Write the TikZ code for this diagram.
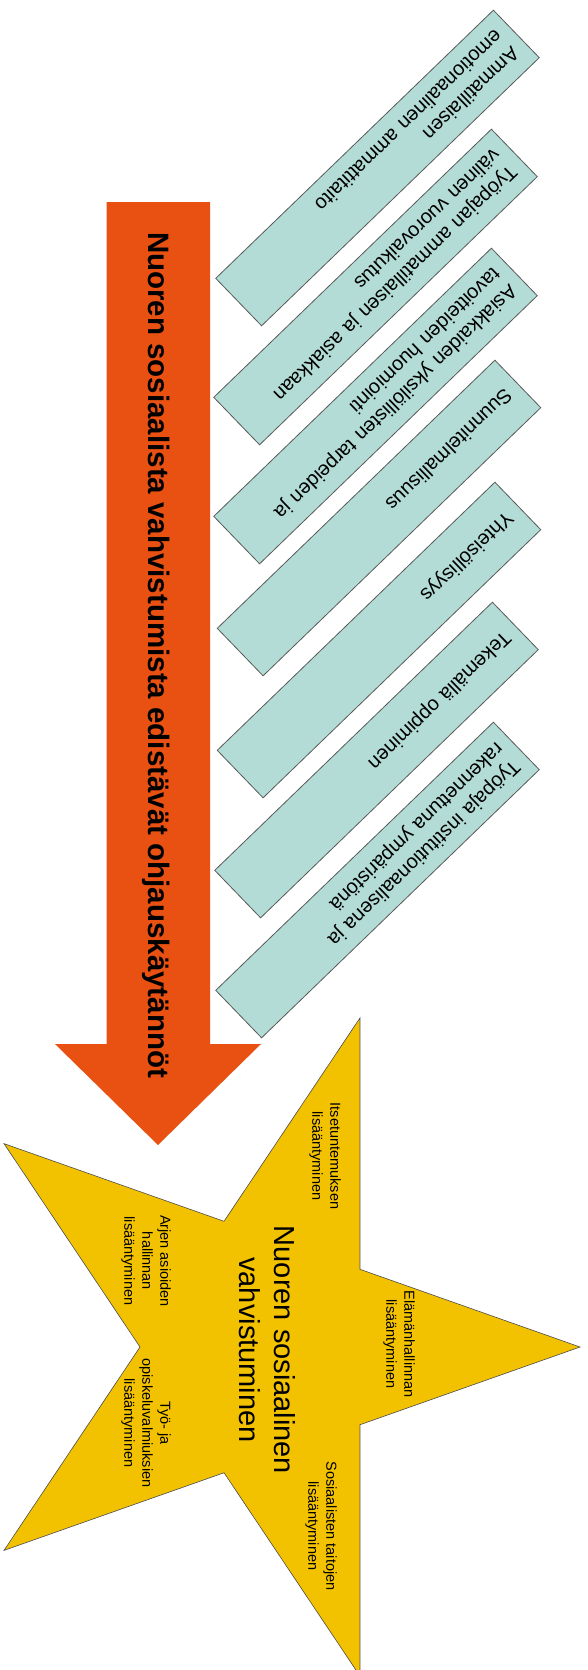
\documentclass[tikz,border=0pt]{standalone}
\usepackage{fontspec}
\setmainfont{Liberation Sans}
\definecolor{practicebar}{RGB}{179,220,214}
\definecolor{guidearrow}{RGB}{232,81,18}
\definecolor{stargold}{RGB}{242,194,0}
\begin{document}
\begin{tikzpicture}[x=1pt,y=-1pt,
  practice/.style={draw=black!65, fill=practicebar, line width=0.8pt, rotate=224,
    minimum width=386pt, minimum height=66pt, text width=362pt, inner xsep=12pt,
    inner ysep=0pt, align=left, font=\fontsize{20}{24}\selectfont},
  armtext/.style={rotate=-90, align=center, inner sep=0pt, font=\fontsize{14.5}{18}\selectfont}]

\useasboundingbox (0,0) rectangle (587,1670);
\clip (0,0) rectangle (587,1670);

%ARROW
\fill[guidearrow] (106.5,202) -- (210,202) -- (210,1044) -- (261,1044) --
(158,1145) -- (55,1044) -- (106.5,1044) -- cycle;
\node[rotate=-90, font=\fontsize{29.5}{35}\selectfont\bfseries] (guide) at (156,655)
{Nuoren sosiaalista vahvistumista edistävät ohjauskäytännöt};

% practices
\node[practice] (ammatti) at (377.5,168) {Ammatillaisen\\emotionaalinen ammattitaito};
\node[practice] (vuoro) at (375.5,287) {Työpajan ammatillaisen ja asiakkaan\\välinen vuorovaikutus};
\node[practice] (tarpeet) at (375.5,406) {Asiakkaiden yksilöllisten tarpeiden ja\\tavoitteiden huomiointi};
\node[practice] (suunn) at (379,518) {Suunnitelmallisuus};
\node[practice] (yhteis) at (379,640) {Yhteisöllisyys};
\node[practice] (tekem) at (376.5,760) {Tekemällä oppiminen};
\node[practice] (ymparisto) at (377.5,880) {Työpaja institutionaalisena ja\\rakennettuna ympäristönä};

%STAR
\draw[fill=stargold, draw=black!70, line width=0.6pt, shift={(261.6,1347)}]
(0:318.4pt and 346pt) \foreach \a in {0,72,...,288}
{ -- (\a+36:121.6pt and 132.2pt) -- (\a+72:318.4pt and 346pt)} -- cycle;

% star texts
\node[rotate=-90, align=center, font=\fontsize{29}{35}\selectfont] (vahvistuminen) at (267,1350)
{Nuoren sosiaalinen\\vahvistuminen};
\node[armtext] (itsetunto) at (325,1156) {Itsetuntemuksen\\lisääntyminen};
\node[armtext] (elama) at (399,1344) {Elämänhallinnan\\lisääntyminen};
\node[armtext] (sosiaal) at (321,1526) {Sosiaalisten taitojen\\lisääntyminen};
\node[armtext] (opiskelu) at (146,1423) {Työ- ja\\opiskeluvalmiuksien\\lisääntyminen};
\node[armtext] (arki) at (146,1261) {Arjen asioiden\\hallinnan\\lisääntyminen};

\end{tikzpicture}
\end{document}
